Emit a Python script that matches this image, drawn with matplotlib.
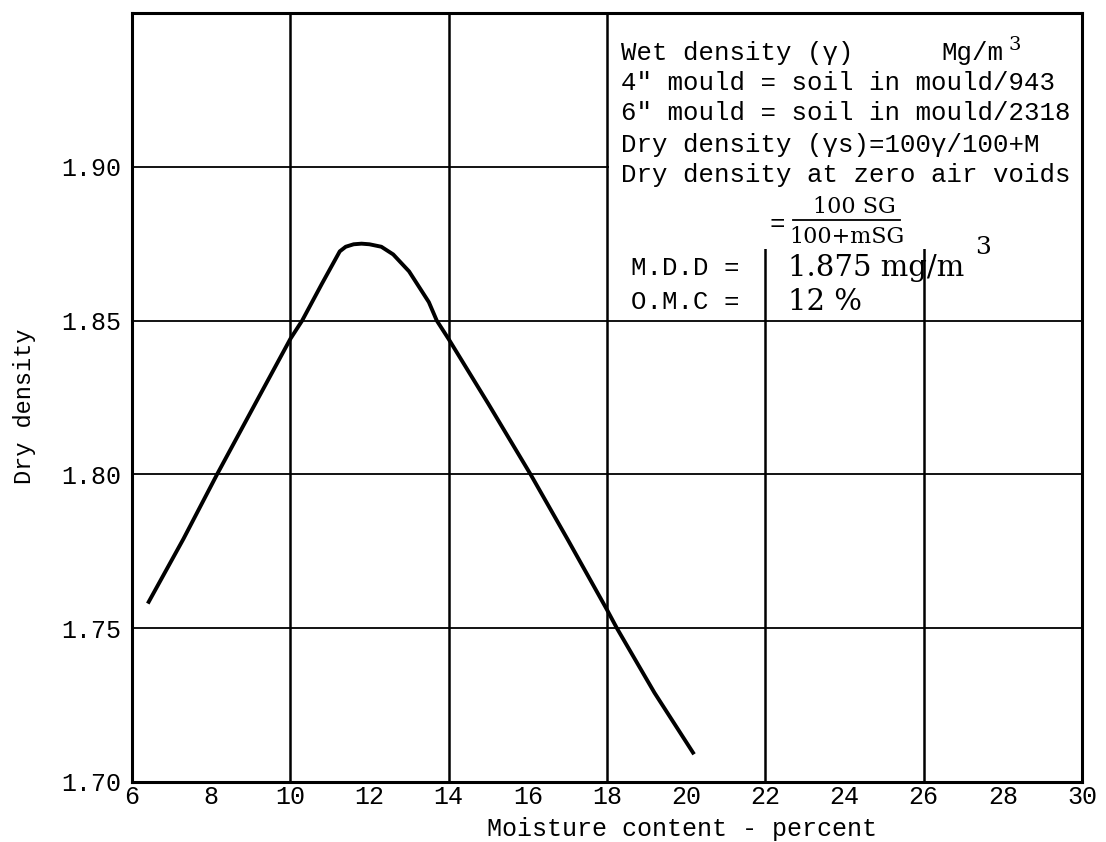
import matplotlib
matplotlib.use("Agg")
import matplotlib.pyplot as plt
from matplotlib.patches import Rectangle

# Veriler (okunan degerler)
moisture = [6.4, 7.3, 8.15, 9.2, 10.0, 10.3, 10.8, 11.1, 11.25, 11.4, 11.6, 11.8,
            12.0, 12.3, 12.6, 13.0, 13.5, 13.7, 14.0, 15.0, 16.07, 17.0, 18.0,
            18.25, 19.2, 20.2]
dry_density = [1.758, 1.779, 1.800, 1.825, 1.844, 1.850, 1.862, 1.869, 1.8725,
               1.874, 1.8748, 1.875, 1.8748, 1.874, 1.8715, 1.866, 1.856, 1.850,
               1.844, 1.823, 1.800, 1.779, 1.756, 1.750, 1.729, 1.709]

x_ticks = [6, 8, 10, 12, 14, 16, 18, 20, 22, 24, 26, 28, 30]
y_ticks = [1.70, 1.75, 1.80, 1.85, 1.90]
y_labels = ["1.70", "1.75", "1.80", "1.85", "1.90"]
grid_x = [10, 14, 18, 22, 26]
grid_y = [1.75, 1.80, 1.85, 1.90]

info_lines = [
    "Wet density (\u03b3)",
    "4\" mould = soil in mould/943",
    "6\" mould = soil in mould/2318",
    "Dry density (\u03b3s)=100\u03b3/100+M",
    "Dry density at zero air voids",
]
mdd_text = "1.875 mg/m"
omc_text = "12 %"

mono = "Liberation Mono"
serif = "DejaVu Serif"

fig = plt.figure(figsize=(11.06, 8.42), dpi=100)
ax = fig.add_axes([0.1193, 0.0713, 0.859, 0.9133])
ax.set_xlim(6, 30)
ax.set_ylim(1.70, 1.95)

# Izgara
for gx in grid_x:
    ax.axvline(gx, color="black", lw=1.8, zorder=1)
for gy in grid_y:
    ax.axhline(gy, color="black", lw=1.3, zorder=1)

# Metin kutusu alani (izgarayi ortuyor)
ax.add_patch(Rectangle((18.06, 1.8733), 12, 0.08, facecolor="white",
                       edgecolor="none", zorder=2))

# Egri
ax.plot(moisture, dry_density, color="black", lw=2.8, zorder=4,
        solid_capstyle="butt")

for s in ax.spines.values():
    s.set_linewidth(2.2)

ax.set_xticks(x_ticks)
ax.set_xticklabels([str(t) for t in x_ticks], fontsize=18, family=mono)
ax.set_yticks(y_ticks)
ax.set_yticklabels(y_labels, fontsize=18, family=mono)
ax.tick_params(length=0)
ax.tick_params(axis="x", pad=2)
ax.tick_params(axis="y", pad=8)

ax.set_xlabel("Moisture content - percent", fontsize=18, family=mono)
ax.xaxis.set_label_coords(0.579, -0.045)
ax.set_ylabel("Dry density", fontsize=17, family=mono)
ax.yaxis.set_label_coords(-0.101, 0.488)

# Aciklama metinleri
line_y = [1.937, 1.9272, 1.9175, 1.9071, 1.8973]
for txt, yy in zip(info_lines, line_y):
    ax.text(18.35, yy, txt, fontsize=18.5, family=mono, va="center", zorder=5)
ax.text(26.46, 1.937, "Mg/m", fontsize=18.5, family=mono, va="center", zorder=5)
ax.text(28.15, 1.9395, "3", fontsize=14, family=serif, va="center", zorder=5)

ax.text(22.1, 1.8815, "=", fontsize=18.5, family=mono, va="center", zorder=5)
ax.text(24.25, 1.8869, "100 SG", fontsize=16, family=serif, ha="center",
        va="center", zorder=5)
ax.plot([22.71, 25.39], [1.8827, 1.8827], color="black", lw=1.3, zorder=5)
ax.text(24.05, 1.8772, "100+mSG", fontsize=16, family=serif, ha="center",
        va="center", zorder=5)

ax.text(18.61, 1.8671, "M.D.D =", fontsize=18.5, family=mono, va="center", zorder=5)
ax.text(22.58, 1.8671, mdd_text, fontsize=21, family=serif, va="center", zorder=5)
ax.text(27.3, 1.8736, "3", fontsize=18, family=serif, va="center", zorder=5)
ax.text(18.61, 1.856, "O.M.C =", fontsize=18.5, family=mono, va="center", zorder=5)
ax.text(22.58, 1.856, omc_text, fontsize=21, family=serif, va="center", zorder=5)

fig.savefig("out.png", dpi=100)
